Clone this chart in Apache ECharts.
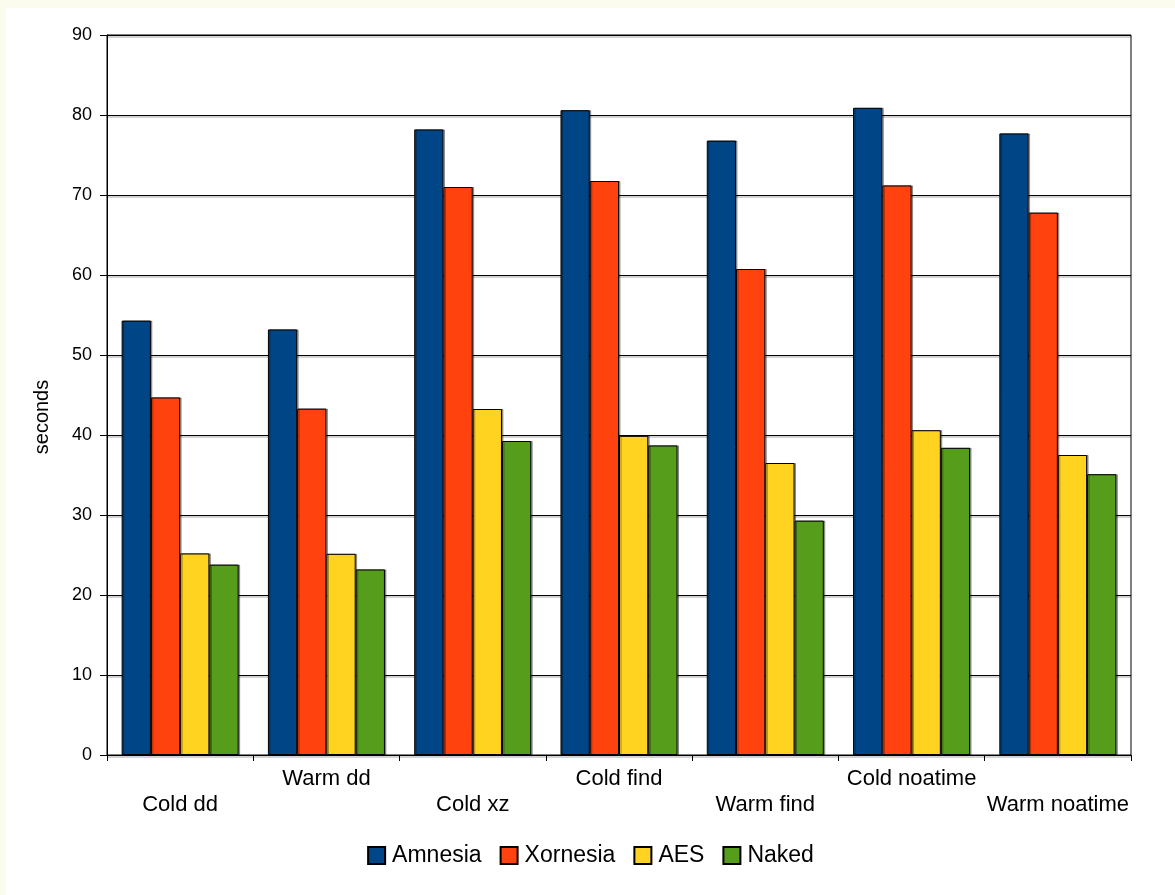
<!DOCTYPE html>
<html>
<head>
<meta charset="utf-8">
<script src="https://cdn.jsdelivr.net/npm/echarts@6/dist/echarts.min.js"></script>
<style>
  html, body { margin: 0; padding: 0; width: 1175px; height: 895px; background: #fbfbee; overflow: hidden; }
  #chart { position: absolute; left: 6px; top: 8px; width: 1169px; height: 887px; background: #ffffff; }
</style>
</head>
<body>
<div id="chart"></div>
<script>
const categories = ['Cold dd', 'Warm dd', 'Cold xz', 'Cold find', 'Warm find', 'Cold noatime', 'Warm noatime'];
const amnesia  = [54.3, 53.2, 78.2, 80.6, 76.8, 80.9, 77.7];
const xornesia = [44.7, 43.3, 71.0, 71.75, 60.75, 71.2, 67.8];
const aes      = [25.2, 25.15, 43.25, 39.9, 36.5, 40.6, 37.5];
const naked    = [23.8, 23.2, 39.25, 38.7, 29.3, 38.4, 35.1];
const seriesNames = ['Amnesia', 'Xornesia', 'AES', 'Naked'];
const seriesColors = ['#004586', '#ff420e', '#ffd320', '#579d1c'];
const yTicks = [0, 10, 20, 30, 40, 50, 60, 70, 80, 90];

const FONT = "'Liberation Sans', Arial, sans-serif";
const chart = echarts.init(document.getElementById('chart'));
const dataSets = [amnesia, xornesia, aes, naked];

chart.setOption({
  animation: false,
  textStyle: { fontFamily: FONT, color: '#000' },
  grid: { left: 101, top: 27, right: 44, bottom: 140, show: true, borderColor: '#000', borderWidth: 1, backgroundColor: '#fff' },
  legend: {
    data: seriesNames,
    top: 831,
    left: 'center',
    itemWidth: 17,
    itemHeight: 17,
    itemGap: 18,
    icon: 'rect',
    textStyle: { fontFamily: FONT, fontSize: 23, color: '#000', padding: [0, 0, 0, 2] }
  },
  xAxis: {
    type: 'category',
    data: categories,
    axisLine: { lineStyle: { color: '#000', width: 1 } },
    axisTick: { show: true, length: 6, lineStyle: { color: '#000' } },
    axisLabel: {
      interval: 0,
      margin: 11,
      fontSize: 22,
      lineHeight: 26,
      color: '#000',
      fontFamily: FONT,
      formatter: function (v, i) { return i % 2 === 0 ? '\n' + v : v; }
    }
  },
  yAxis: {
    type: 'value',
    min: yTicks[0],
    max: yTicks[yTicks.length - 1],
    interval: 10,
    name: 'seconds',
    nameLocation: 'middle',
    nameGap: 55,
    nameRotate: 90,
    nameTextStyle: { fontSize: 20, color: '#000', fontFamily: FONT, padding: [0, 44, 0, 0] },
    axisLine: { show: true, lineStyle: { color: '#000', width: 1 } },
    axisTick: { show: true, length: 7, lineStyle: { color: '#000' } },
    axisLabel: { fontSize: 18, margin: 15, color: '#000', fontFamily: FONT },
    splitLine: { show: true, lineStyle: { color: '#000', width: 1, shadowColor: 'rgba(0,0,0,0.35)', shadowOffsetY: 1.5, shadowBlur: 0 } }
  },
  series: seriesNames.map(function (name, k) {
    return {
      name: name,
      type: 'bar',
      data: dataSets[k],
      barGap: '0%',
      barCategoryGap: '20%',
      itemStyle: {
        color: seriesColors[k],
        borderColor: '#000',
        borderWidth: 1,
        shadowColor: 'rgba(0,0,0,0.35)',
        shadowOffsetX: 1.5,
        shadowOffsetY: 0,
        shadowBlur: 0
      }
    };
  })
});
</script>
</body>
</html>
